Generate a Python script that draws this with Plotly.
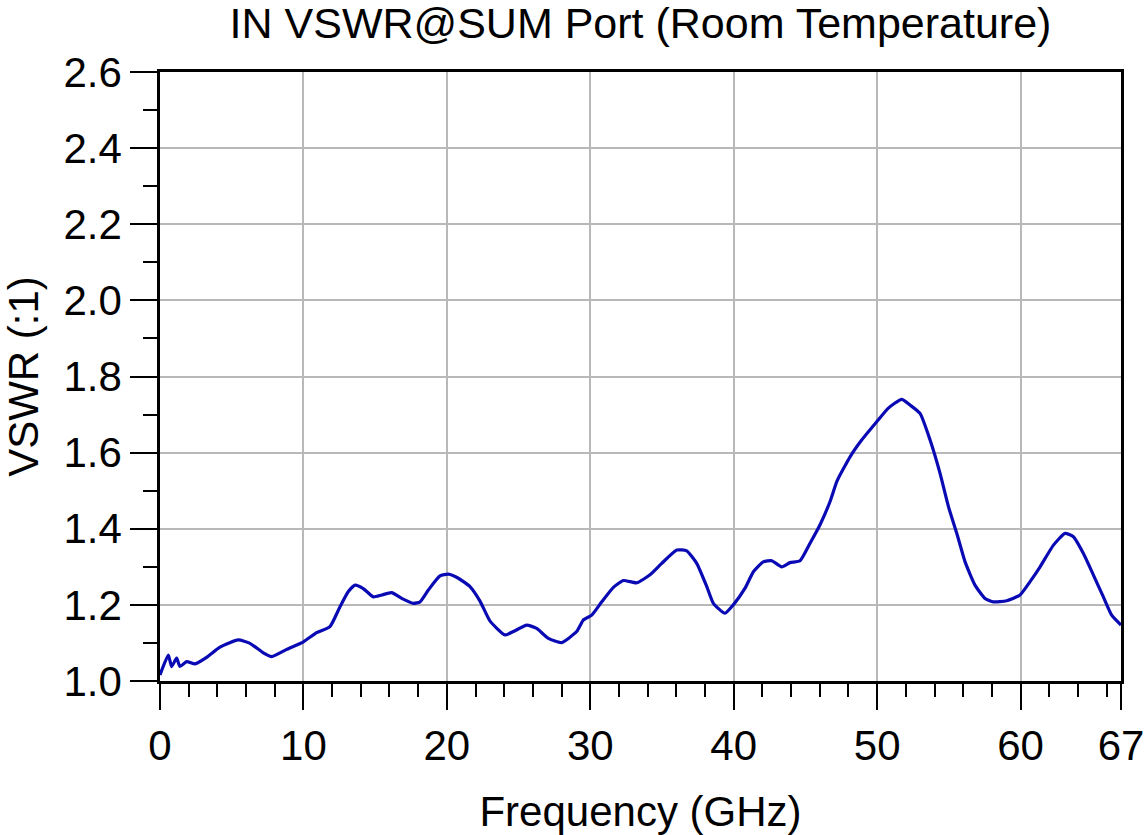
import plotly.graph_objects as go

freq_ghz = [0.0, 0.58, 0.81, 1.16, 1.39, 1.86, 2.44, 3.25, 4.18, 5.46, 6.27, 7.2, 7.79, 8.83,
            10.0, 10.92, 11.85, 12.55, 13.13, 13.6, 14.17, 14.87, 15.46, 16.15, 16.85, 17.66,
            18.13, 18.71, 19.52, 20.1, 20.8, 21.61, 22.31, 23.0, 24.05, 24.64, 25.57, 26.26,
            27.08, 28.0, 29.05, 29.51, 30.1, 30.8, 31.61, 32.31, 33.24, 34.16, 34.98, 36.03,
            36.72, 37.42, 38.12, 38.58, 39.39, 39.97, 40.79, 41.37, 42.06, 42.65, 43.35, 43.92,
            44.62, 45.32, 46.01, 46.71, 47.2, 48.11, 48.92, 49.97, 50.78, 51.71, 52.29, 52.99,
            53.69, 54.38, 54.97, 55.55, 56.13, 56.82, 57.52, 58.1, 59.03, 59.96, 60.66, 61.36,
            62.29, 63.1, 63.68, 64.38, 65.07, 65.77, 66.35, 67.0]
vswr = [1.016, 1.068, 1.038, 1.060, 1.038, 1.051, 1.045, 1.062, 1.089, 1.108, 1.099, 1.074, 1.064, 1.083,
        1.103, 1.127, 1.143, 1.195, 1.235, 1.252, 1.243, 1.221, 1.226, 1.232, 1.217, 1.204,
        1.208, 1.239, 1.276, 1.281, 1.270, 1.248, 1.210, 1.158, 1.121, 1.130, 1.147, 1.138,
        1.112, 1.101, 1.130, 1.160, 1.173, 1.208, 1.246, 1.264, 1.258, 1.279, 1.309, 1.344,
        1.342, 1.309, 1.248, 1.204, 1.178, 1.200, 1.244, 1.287, 1.313, 1.316, 1.300, 1.311,
        1.316, 1.362, 1.410, 1.471, 1.525, 1.589, 1.633, 1.681, 1.717, 1.740, 1.725, 1.703,
        1.633, 1.546, 1.458, 1.388, 1.313, 1.252, 1.217, 1.208, 1.211, 1.226, 1.261, 1.300,
        1.357, 1.388, 1.379, 1.335, 1.279, 1.221, 1.173, 1.147]

x_ticks = [0, 10, 20, 30, 40, 50, 60, 67]
x_minor = list(range(0, 68, 2))
y_ticks = [1.0, 1.2, 1.4, 1.6, 1.8, 2.0, 2.2, 2.4, 2.6]
y_minor = [round(1.0 + 0.1 * i, 1) for i in range(17)]

title_text = "IN VSWR@SUM Port (Room Temperature)"
x_title = "Frequency (GHz)"
y_title = "VSWR (:1)"

FONT = "Liberation Sans, Arial, sans-serif"

fig = go.Figure()
fig.add_trace(go.Scatter(x=freq_ghz, y=vswr, mode="lines",
                         line=dict(color="#0a0ab4", width=3.2, shape="spline", smoothing=0.5),
                         showlegend=False))

fig.update_layout(
    width=1146, height=835,
    margin=dict(l=160, r=25, t=72, b=154),
    paper_bgcolor="white", plot_bgcolor="white",
    font=dict(family=FONT, size=42, color="black"),
    title=dict(text=title_text, x=0.5589, xanchor="center", xref="container",
               y=0.99, yanchor="top", yref="container",
               font=dict(family=FONT, size=43, color="black")),
)
fig.update_xaxes(
    range=[0, 67], tickmode="array", tickvals=x_ticks, ticktext=[str(v) for v in x_ticks],
    showgrid=True, gridcolor="#b8b8b8", gridwidth=2,
    showline=True, linecolor="black", linewidth=2.5, mirror=True,
    ticks="outside", ticklen=26, tickwidth=2, tickcolor="black",
    minor=dict(tickmode="array", tickvals=x_minor, ticks="outside", ticklen=13,
               tickwidth=2, tickcolor="black", showgrid=False),
    zeroline=False,
    title=dict(text=x_title, standoff=30, font=dict(family=FONT, size=42)),
    automargin=False,
)
fig.update_yaxes(
    range=[1.0, 2.6], tickmode="array", tickvals=y_ticks, ticktext=[f"{v:.1f}" for v in y_ticks],
    showgrid=True, gridcolor="#b8b8b8", gridwidth=2,
    showline=True, linecolor="black", linewidth=2.5, mirror=True,
    ticks="outside", ticklen=27, tickwidth=2, tickcolor="black",
    minor=dict(tickmode="array", tickvals=y_minor, ticks="outside", ticklen=14,
               tickwidth=2, tickcolor="black", showgrid=False),
    zeroline=False,
    title=dict(text=y_title, standoff=22, font=dict(family=FONT, size=42)),
    automargin=False,
)

fig.write_html("out.html")
